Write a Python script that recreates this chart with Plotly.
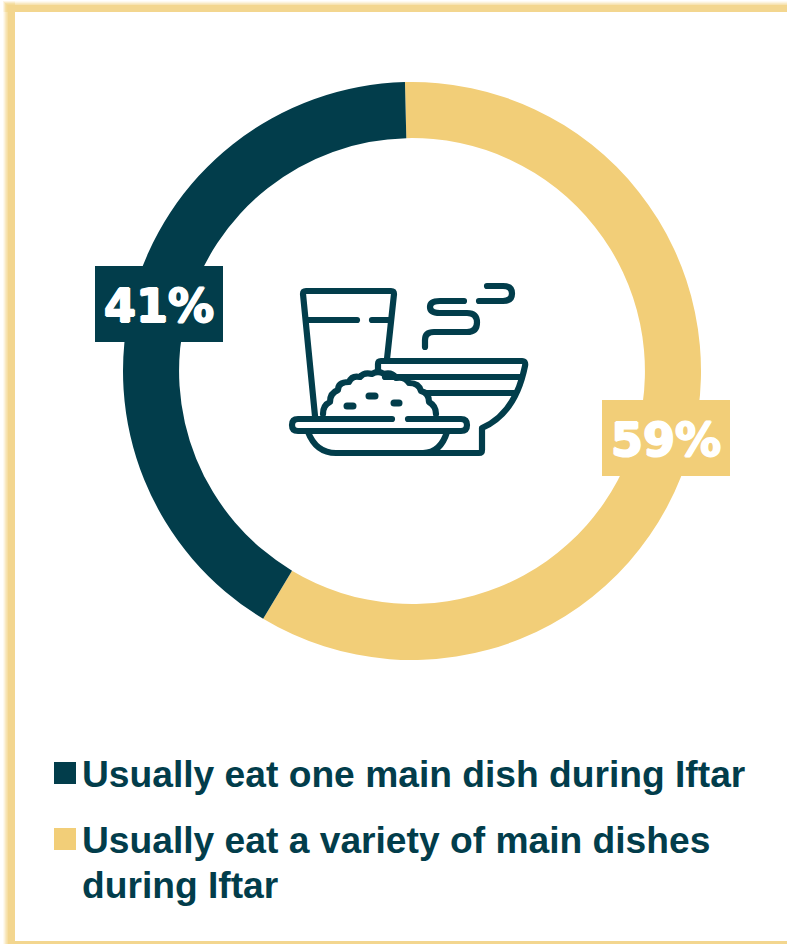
import plotly.graph_objects as go

categories = ["Usually eat a variety of main dishes during Iftar", "Usually eat one main dish during Iftar"]
shares = [59, 41]
slice_colors = ["#F2CE78", "#023D4B"]
legend_lines = ["Usually eat one main dish during Iftar", "Usually eat a variety of main dishes", "during Iftar"]

W, H = 787, 944
DARK, GOLD = slice_colors[1], slice_colors[0]
FRAME = "#F3D68F"

fig = go.Figure()
fig.add_trace(go.Pie(
    labels=categories, values=shares, sort=False, direction="clockwise", rotation=-1.4,
    hole=0.806, textinfo="none", hoverinfo="skip", showlegend=False,
    marker=dict(colors=slice_colors, line=dict(width=0)),
    domain=dict(x=[123 / W, 701 / W], y=[1 - 660 / H, 1 - 82 / H]),
))

shapes = []

# Page frame: solid band with a soft fade on its outer side
def band(x0, y0, x1, y1, opacity=1.0):
    shapes.append(dict(type="rect", xref="x", yref="y", x0=x0, y0=y0, x1=x1, y1=y1,
                       fillcolor=FRAME, opacity=opacity, line=dict(width=0), layer="below"))

for off, op in [(3, 0.12), (4, 0.2), (5, 0.3), (6, 0.35), (7, 0.45)]:
    band(off, off - 2, W, 12, op)
    band(off, off - 2, 15, H, op)
band(8, 5, W, 12)
band(8, 5, 15, H)
band(8, 941, W, H)

# Meal icon in the middle of the ring
icon_paths = [
    # glass
    "M315,416 L303,294 Q303,291 306,291 L391,291 Q394,291 394,294 L387,359",
    "M307,320 L357,320",
    "M372,320 L389,320",
    # steam
    "M425,347 L425,340 Q425,332 434,332 L467,332 Q477,332 477,322.5 Q477,313 467,313 L440,313 "
    "Q430,313 430,307 Q430,301 440,301 L464,301",
    "M487,286 L503,286 Q512,286 512,293.5 Q512,301 503,301 L479,301",
    # bowl
    "M378,370 L378,364 Q378,361 381,361 L522,361 Q526,361 525,366 "
    "C519,396 505,418 482,428 L482,450 Q482,453 479,453 L423,453",
    "M385,377 L520,377",
    "M427,393 L515,393",
    # plate
    "M392,419 L298,419 Q292,419 292,425 Q292,431 298,431 L461,431 Q467,431 467,425 Q467,419 461,419 L408,419",
    "M308,432 C313,445 322,453 336,453 L423,453 C436,453 443,445 447,432",
    # rice mound
    "M323,414 Q323,405 330,402 Q330,393 338,390 Q338,382 349,382 Q352,375 360,377 "
    "Q364,372 372,374 Q378,370 384,374 Q392,372 396,378 Q405,376 409,383 Q419,383 421,391 "
    "Q429,393 429,402 Q436,406 436,414",
]
for d in icon_paths:
    shapes.append(dict(type="path", xref="x", yref="y", path=d, line=dict(color=DARK, width=6.2)))
# Grains on the rice
for d in ["M369,396 L375,396", "M347,406 L353,406", "M394,403 L399,403"]:
    shapes.append(dict(type="path", xref="x", yref="y", path=d, line=dict(color=DARK, width=7)))

# Legend swatches
swatch_tops = [762, 828]
for top, color in zip(swatch_tops, slice_colors[::-1]):
    shapes.append(dict(type="rect", xref="x", yref="y", x0=54, x1=76, y0=top, y1=top + 22,
                       fillcolor=color, line=dict(width=0)))

annotations = []

# Value tags sitting on the ring
tag_centres = [(666, 438), (159, 304)]
heavy = "1px 0 0 white, -1px 0 0 white, 0 1px 0 white, 0 -1px 0 white"
for share, color, (cx, cy) in zip(shares, slice_colors, tag_centres):
    shapes.append(dict(type="rect", xref="x", yref="y", x0=cx - 64, x1=cx + 64, y0=cy - 38, y1=cy + 38,
                       fillcolor=color, line=dict(width=0)))
    annotations.append(dict(
        x=cx, y=cy + 1.5, xref="x", yref="y", xanchor="center", yanchor="middle",
        text=f"<b>{share}%</b>", showarrow=False, align="center",
        font=dict(family="DejaVu Sans", size=46, color="white", shadow=heavy),
    ))

# Legend text
legend_tops = [753, 819, 864]
for text, top in zip(legend_lines, legend_tops):
    annotations.append(dict(
        x=82, y=top, xref="x", yref="y", xanchor="left", yanchor="top", align="left",
        text=f"<b>{text}</b>", showarrow=False, borderpad=0, borderwidth=0,
        font=dict(family="Liberation Sans", size=37.2, color=DARK),
    ))

fig.update_layout(
    width=W, height=H, margin=dict(l=0, r=0, t=0, b=0),
    paper_bgcolor="white", plot_bgcolor="rgba(0,0,0,0)",
    xaxis=dict(visible=False, range=[0, W], fixedrange=True),
    yaxis=dict(visible=False, range=[H, 0], fixedrange=True),
    shapes=shapes, annotations=annotations, showlegend=False,
)

# Rounded line ends on the icon strokes
round_caps = """
var s = document.createElement('style');
s.textContent = '.shapelayer path{stroke-linecap:round;stroke-linejoin:round}';
document.head.appendChild(s);
"""
fig.write_html("out.html", config=dict(displayModeBar=False), post_script=round_caps)
